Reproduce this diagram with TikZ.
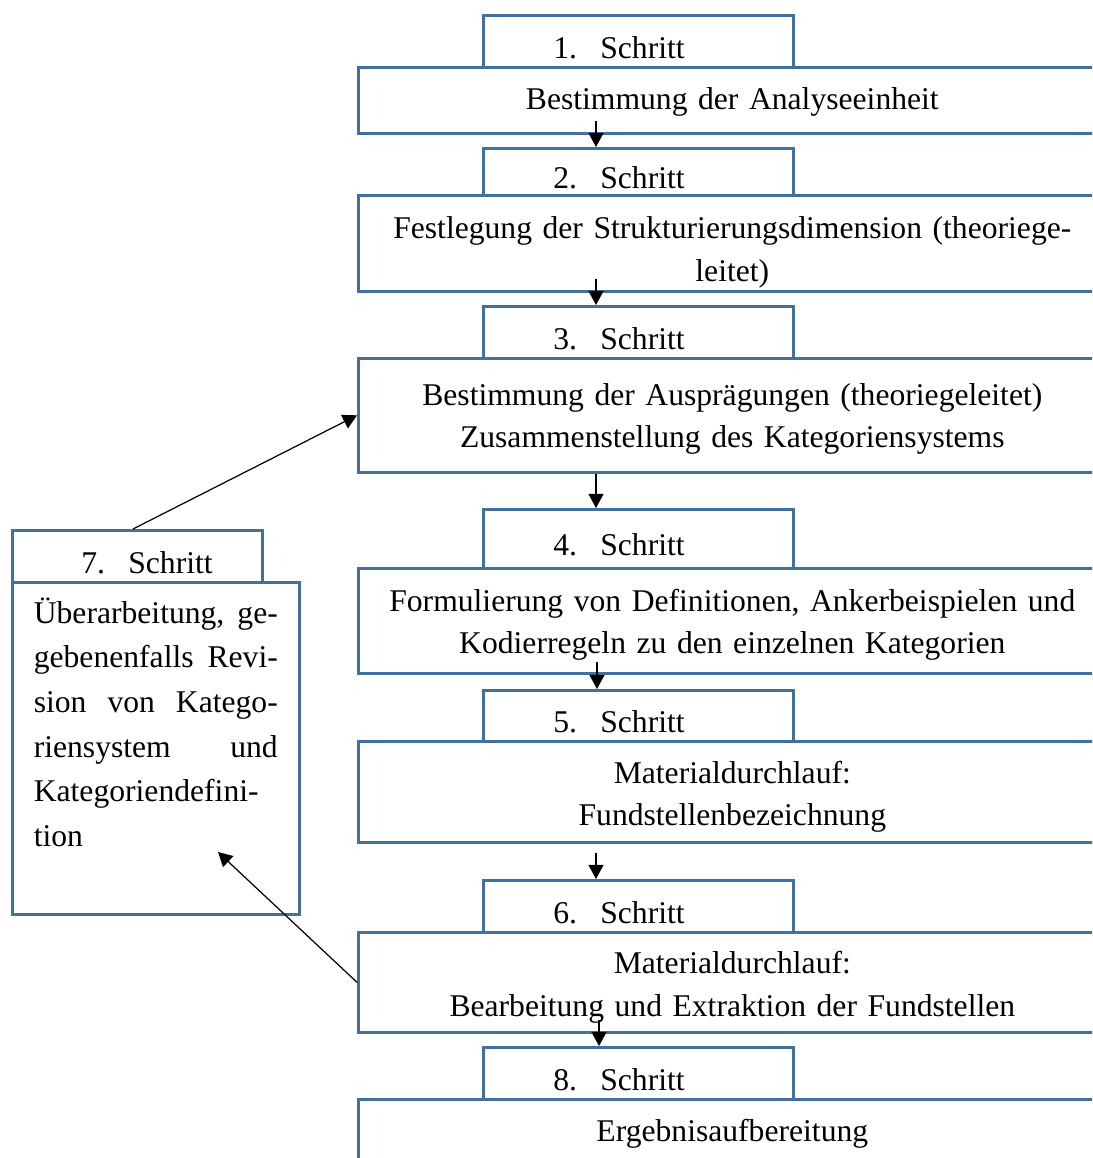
\documentclass[tikz,border=0pt]{standalone}
\usepackage{fontspec}
\setmainfont{Liberation Serif}
\usetikzlibrary{arrows.meta}

\definecolor{framecol}{RGB}{65,113,156}
\newlength{\pu}
\setlength{\pu}{0.02cm}
\newcommand{\steplabel}[1]{\hspace*{70\pu}\makebox[47\pu][l]{#1.}Schritt}

\tikzset{
  frame/.style={draw=framecol, line width=1.5pt, fill=white, inner sep=0pt, anchor=north west},
  tabbox/.style={frame, minimum width=310\pu, minimum height=52\pu, text width=310\pu, align=left, text height=34\pu, text depth=0pt},
  stepbox/.style={frame, minimum width=748\pu, text width=700\pu, inner xsep=24\pu, align=center},
  flow/.style={-{Triangle[length=8pt,width=8.5pt]}, line width=0.7pt}
}

\begin{document}
\begin{tikzpicture}[x=0.02cm, y=-0.02cm, font=\fontsize{18pt}{24pt}\selectfont]

        \useasboundingbox (0,0) rectangle (1092,1158);
        \clip (0,0) rectangle (1092,1158);

        %Step 1
        \node [tabbox] (t1) at (482,14) {\steplabel{1}};
        \node [stepbox, minimum height=66\pu] (b1) at (357,66) {\rule{0pt}{26\pu}Bestimmung der Analyseeinheit};

        %Step 2
        \node [tabbox, minimum height=47\pu] (t2) at (482,147) {\steplabel{2}};
        \node [stepbox, minimum height=96\pu] (b2) at (357,194) {\rule{0pt}{40\pu}Festlegung der Strukturierungsdimension (theoriege-\\leitet)};

        %Step 3
        \node [tabbox] (t3) at (482,305) {\steplabel{3}};
        \node [stepbox, minimum height=114\pu] (b3) at (357,357) {\rule{0pt}{30\pu}Bestimmung der Ausprägungen (theoriegeleitet)\\Zusammenstellung des Kategoriensystems};

        %Step 4
        \node [tabbox, minimum height=59\pu] (t4) at (482,508) {\steplabel{4}};
        \node [stepbox, minimum height=105\pu] (b4) at (357,567) {\rule{0pt}{30\pu}Formulierung von Definitionen, Ankerbeispielen und\\Kodierregeln zu den einzelnen Kategorien};

        %Step 5
        \node [tabbox, minimum height=51\pu] (t5) at (482,689) {\steplabel{5}};
        \node [stepbox, minimum height=101\pu] (b5) at (357,740) {\rule{0pt}{32\pu}Materialdurchlauf:\\Fundstellenbezeichnung};

        %Step 6
        \node [tabbox] (t6) at (482,879) {\steplabel{6}};
        \node [stepbox, minimum height=100\pu] (b6) at (357,931) {\rule{0pt}{32\pu}Materialdurchlauf:\\Bearbeitung und Extraktion der Fundstellen};

        %Step 8
        \node [tabbox] (t8) at (482,1046) {\steplabel{8}};
        \node [stepbox, minimum height=66\pu] (b8) at (357,1098) {\rule{0pt}{26\pu}Ergebnisaufbereitung};

        %Step 7 (revision)
        \node [tabbox, minimum width=250\pu, text width=250\pu] (t7) at (11,529) {\hspace*{-1\pu}\steplabel{7}};
        \node [frame, minimum width=287\pu, text width=244\pu, inner xsep=21.5\pu, align=justify,
               font=\fontsize{18pt}{25.4pt}\selectfont] (b7) at (11,581)
              {\rule{0pt}{41\pu}Überarbeitung, ge-\linebreak gebenenfalls Revi-\linebreak sion von Katego-\linebreak
               riensystem und\linebreak Kategoriendefini-\linebreak tion\rule[-68\pu]{0pt}{68\pu}};

        %Arrows down
        \coordinate (a12) at (596,121);
        \draw [flow] (a12) -- (a12 |- t2.north);
        \coordinate (a23) at (596,279);
        \draw [flow] (a23) -- (a23 |- t3.north);
        \draw [flow] (b3.south -| a23) -- (a23 |- t4.north);
        \coordinate (a45) at (597,662);
        \draw [flow] (a45) -- (a45 |- t5.north);
        \coordinate (a56) at (596,853);
        \draw [flow] (a56) -- (a56 |- t6.north);
        \coordinate (a68) at (599,1020);
        \draw [flow] (a68) -- (a68 |- t8.north);

        %Feedback loop
        \coordinate (a73) at (133,529);
        \draw [flow] (a73) -- (b3.west);
        \coordinate (a67) at (218,852);
        \draw [flow] (b6.west) -- (a67);

\end{tikzpicture}
\end{document}
